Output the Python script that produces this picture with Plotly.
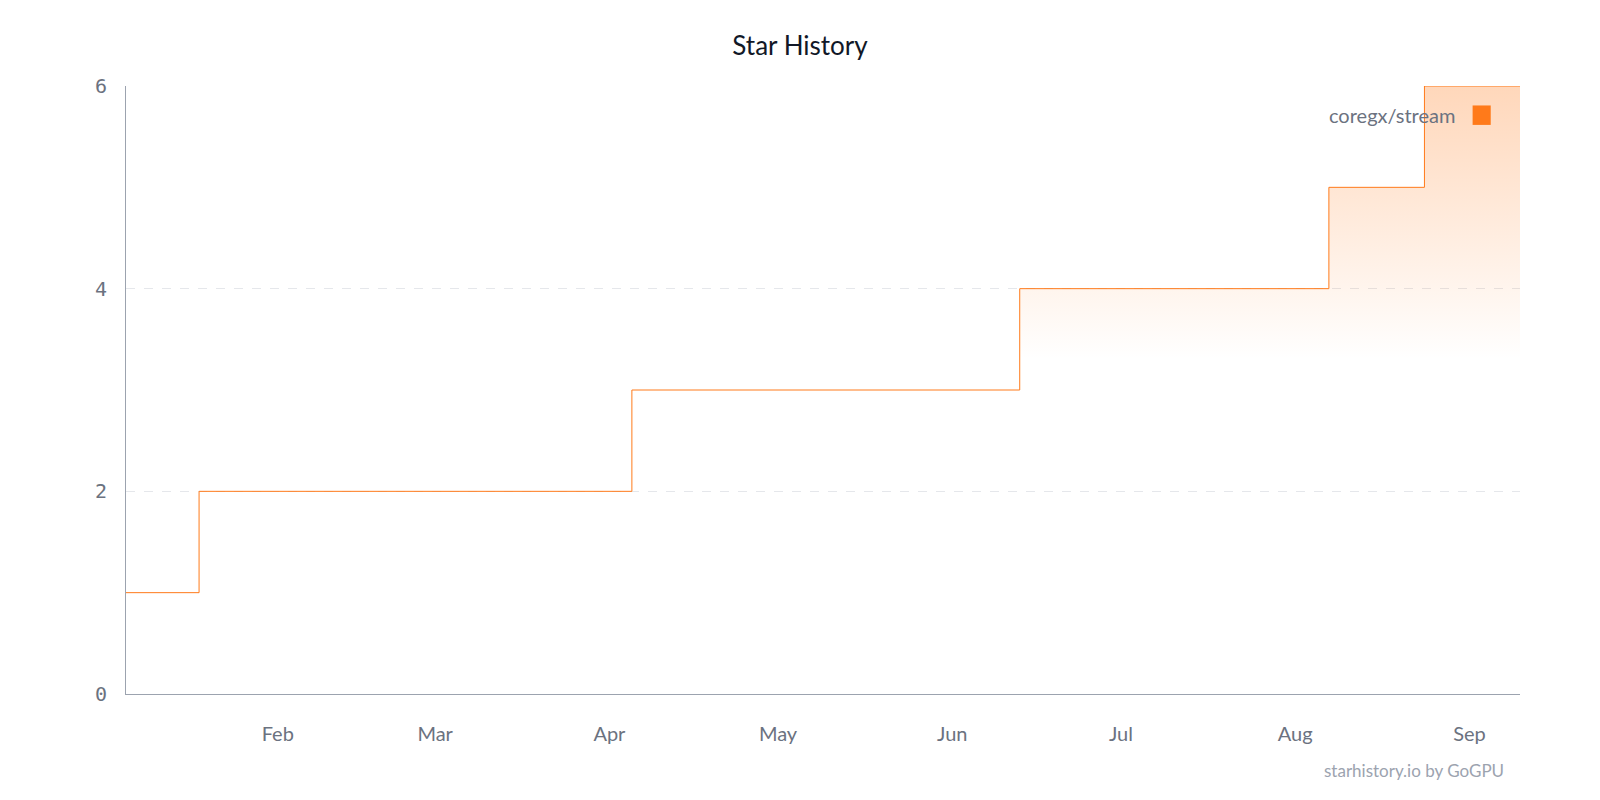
import plotly.graph_objects as go

# star count steps for coregx/stream
dates = ["2025-01-05", "2025-01-18", "2025-04-05", "2025-06-13",
         "2025-08-07", "2025-08-24", "2025-09-10"]
stars = [1, 2, 3, 4, 5, 6, 6]
repo = "coregx/stream"
orange = "#ff7a1a"

fig = go.Figure()
fig.add_trace(go.Scatter(
    x=dates, y=stars, mode="lines", line=dict(color=orange, width=1, shape="hv"),
    fill="tozeroy",
    fillgradient=dict(type="vertical", start=3.3, stop=6,
                      colorscale=[[0, "rgba(255,122,26,0)"], [1, "rgba(255,122,26,0.3)"]]),
    showlegend=False, hoverinfo="skip"))

fig.update_layout(
    autosize=True, paper_bgcolor="white", plot_bgcolor="white",
    margin=dict(l=118, r=72, t=78, b=114),
    title=dict(text="Star History", x=0.5, yref="container", y=0.953, xanchor="center",
               yanchor="middle",
               font=dict(family="Lato, sans-serif", size=26, color="#111827")),
    xaxis=dict(range=["2025-01-05", "2025-09-10"], showgrid=False,
               tickvals=["2025-02-01", "2025-03-01", "2025-04-01", "2025-05-01",
                         "2025-06-01", "2025-07-01", "2025-08-01", "2025-09-01"],
               ticktext=["Feb", "Mar", "Apr", "May", "Jun", "Jul", "Aug", "Sep"],
               showline=True, linecolor="#9ca3af", ticks="", ticklen=0,
               ticklabelstandoff=22,
               tickfont=dict(family="Lato, sans-serif", size=20, color="#6b7280")),
    yaxis=dict(range=[0, 6], tickvals=[0, 2, 4, 6], showline=True, linecolor="#9ca3af",
               gridcolor="#e5e7eb", griddash="dash", zeroline=False,
               ticklabelstandoff=14,
               tickfont=dict(family="DejaVu Sans Mono, monospace", size=20, color="#6b7280")),
)

fig.add_annotation(text=repo, xref="paper", yref="paper", x=0.955, y=0.952,
                   xanchor="right", yanchor="middle", showarrow=False,
                   font=dict(family="Lato, sans-serif", size=20, color="#6b7280"))
fig.add_shape(type="rect", xref="paper", yref="paper", x0=0.966, x1=0.979,
              y0=0.936, y1=0.968, fillcolor=orange, line=dict(width=0))
fig.add_annotation(text="starhistory.io by GoGPU", xref="paper", yref="paper",
                   x=0.99, y=-0.105, xanchor="right", yanchor="top", showarrow=False,
                   font=dict(family="Lato, sans-serif", size=17, color="#9ca3af"))

fig.write_html("out.html", default_width="100%", default_height="100vh")
